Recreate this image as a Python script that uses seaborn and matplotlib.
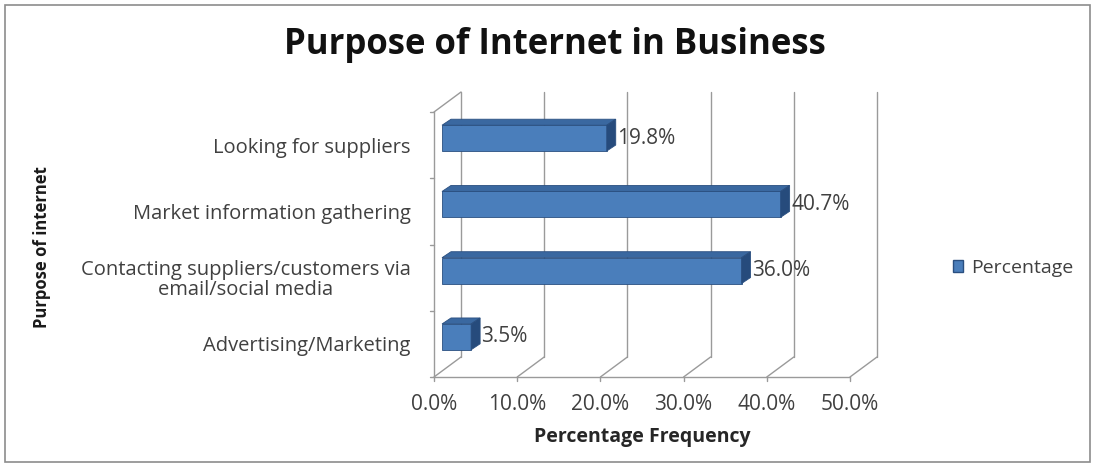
import matplotlib
matplotlib.use("Agg")
import matplotlib.pyplot as plt
from matplotlib.patches import Polygon, Rectangle, Patch
import seaborn as sns

# Chart data
categories = [
    "Looking for suppliers",
    "Market information gathering",
    "Contacting suppliers/customers via\nemail/social media",
    "Advertising/Marketing",
]
percentages = [19.8, 40.7, 36.0, 3.5]
x_ticks = [0, 10, 20, 30, 40, 50]
x_tick_labels = ["0.0%", "10.0%", "20.0%", "30.0%", "40.0%", "50.0%"]

sns.set_theme(style="white")
plt.rcParams["font.family"] = ["Open Sans", "DejaVu Sans"]

W, H = 1094, 466
fig = plt.figure(figsize=(W / 100, H / 100), dpi=100)
fig.patch.set_facecolor("white")

# plot area (front plane) in pixels
left_px, right_px, top_px, bot_px = 434, 850, 112, 377
ax = fig.add_axes([left_px / W, (H - bot_px) / H,
                   (right_px - left_px) / W, (bot_px - top_px) / H])

front_c = "#4A7EBB"
top_c = "#3A68A0"
side_c = "#264B7C"
edge_c = "#2A4F80"

sns.barplot(x=percentages, y=categories, orient="h", color=front_c,
            width=0.39, ax=ax, edgecolor=edge_c, linewidth=0.6,
            saturation=1)
ax.set_xlim(0, 50)
ax.set_ylim(3.5, -0.5)

# pixel -> data unit conversion
px_x = (right_px - left_px) / 50.0
px_y = (bot_px - top_px) / 4.0

def dx(p):
    return p / px_x

def dy(p):
    return -p / px_y  # inverted y axis: up on screen = smaller value

# depth of the box (back wall offset) and of the bars
WX, WY = dx(27), dy(20)
BX, BY = dx(8), dy(7)       # bar front-face offset
DX, DY = dx(9), dy(6)       # bar depth

grid_c = "#9A9A9A"
lw = 1.0
for t in x_ticks:
    # back wall gridlines
    ax.plot([t + WX, t + WX], [3.5 + WY, -0.5 + WY], color=grid_c, lw=lw,
            clip_on=False, zorder=0.5)
    # floor diagonals
    ax.plot([t, t + WX], [3.5, 3.5 + WY], color=grid_c, lw=lw,
            clip_on=False, zorder=0.5)
    # small ticks below the floor
    ax.plot([t, t], [3.5, 3.5 - dy(4)], color=grid_c, lw=lw, clip_on=False)
# front floor edge
ax.plot([0, 50], [3.5, 3.5], color=grid_c, lw=lw, clip_on=False, zorder=0.6)
# left wall
ax.plot([0, 0], [-0.5, 3.5], color=grid_c, lw=lw, clip_on=False, zorder=0.6)
ax.plot([0, WX], [-0.5, -0.5 + WY], color=grid_c, lw=lw, clip_on=False,
        zorder=0.6)
# small ticks on the left wall
for b in [-0.5, 0.5, 1.5, 2.5, 3.5]:
    ax.plot([0, dx(-4)], [b, b], color=grid_c, lw=lw, clip_on=False)

# shift bars and add top/side faces
for patch in list(ax.patches):
    x0, y0 = patch.get_x(), patch.get_y()
    w, h = patch.get_width(), patch.get_height()
    patch.set_x(x0 + BX)
    patch.set_y(y0 + BY)
    patch.set_zorder(3)
    fx0, fx1 = x0 + BX, x0 + w + BX
    fy_top, fy_bot = y0 + BY, y0 + h + BY
    top = Polygon([[fx0, fy_top], [fx1, fy_top], [fx1 + DX, fy_top + DY],
                   [fx0 + DX, fy_top + DY]], closed=True, facecolor=top_c,
                  edgecolor=edge_c, lw=0.6, zorder=3, clip_on=False)
    side = Polygon([[fx1, fy_top], [fx1 + DX, fy_top + DY],
                    [fx1 + DX, fy_bot + DY], [fx1, fy_bot]], closed=True,
                   facecolor=side_c, edgecolor=edge_c, lw=0.6, zorder=3,
                   clip_on=False)
    ax.add_patch(top)
    ax.add_patch(side)

text_c = "#404040"
# value labels
for i, v in enumerate(percentages):
    ax.annotate(f"{v:.1f}%", xy=(v + BX + DX, i + BY),
                xytext=(1.0, 0), textcoords="offset points",
                ha="left", va="center", fontsize=15, color=text_c,
                annotation_clip=False, zorder=4)

for s in ax.spines.values():
    s.set_visible(False)
ax.grid(False)
ax.set_facecolor("none")

ax.set_xticks(x_ticks)
ax.set_xticklabels(x_tick_labels)
ax.tick_params(axis="x", length=0, pad=12, labelsize=15, labelcolor=text_c)
ax.set_yticks(range(len(categories)))
ax.set_yticklabels(categories, multialignment="center", linespacing=1.0)
ax.tick_params(axis="y", length=0, pad=17, labelsize=14.5, labelcolor=text_c)

ax.set_xlabel("Percentage Frequency", fontsize=14, fontweight="bold",
              color="#262626", labelpad=9)
ax.set_ylabel("")
fig.text(42 / W, 1 - 247 / H, "Purpose of internet", rotation=90,
         ha="center", va="center", fontsize=12, fontweight="bold",
         color="#1a1a1a")

fig.text(555 / W, 1 - 45 / H, "Purpose of Internet in Business",
         ha="center", va="center", fontsize=25, fontweight="bold",
         color="#111111")

fig.legend(handles=[Patch(facecolor=front_c, edgecolor=edge_c)],
           labels=["Percentage"], loc="center left",
           bbox_to_anchor=(935 / W, 1 - 268 / H), frameon=False,
           handlelength=0.55, handleheight=0.55, handletextpad=0.4,
           fontsize=14, labelcolor=text_c)

# outer frame
fig.patches.append(Rectangle((5 / W, 4 / H), 1085 / W, 457 / H,
                             transform=fig.transFigure, fill=False,
                             edgecolor="#8c8c8c", lw=1.2))

fig.savefig("out.png", dpi=100)
